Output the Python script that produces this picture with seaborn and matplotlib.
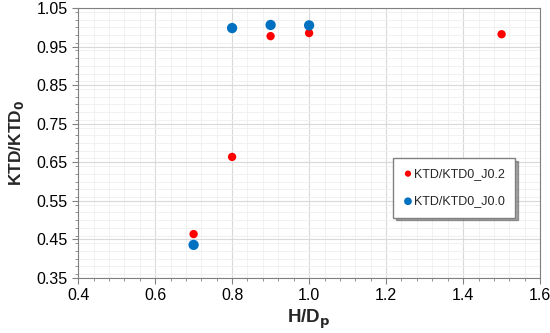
import pandas as pd
import matplotlib.pyplot as plt
import seaborn as sns
from matplotlib.ticker import MultipleLocator

# data
hd_j02 = [0.7, 0.8, 0.9, 1.0, 1.5]
ktd_j02 = [0.464, 0.664, 0.977, 0.985, 0.982]
hd_j00 = [0.7, 0.8, 0.9, 1.0]
ktd_j00 = [0.436, 0.998, 1.006, 1.005]

sns.set_style('white')
plt.rcParams['font.family'] = ['Liberation Sans', 'DejaVu Sans']

df02 = pd.DataFrame({'x': hd_j02, 'y': ktd_j02})
df00 = pd.DataFrame({'x': hd_j00, 'y': ktd_j00})

fig = plt.figure(figsize=(5.5, 3.33), dpi=100)
ax = fig.add_axes([0.142, 0.165, 0.84, 0.811])

sns.scatterplot(data=df02, x='x', y='y', color='#FF0000', s=36, edgecolor='none',
                label='KTD/KTD0_J0.2', ax=ax, zorder=3)
sns.scatterplot(data=df00, x='x', y='y', color='#0070C0', s=55, edgecolor='none',
                label='KTD/KTD0_J0.0', ax=ax, zorder=3)

ax.set_xlim(0.4, 1.6)
ax.set_ylim(0.35, 1.05)
ax.xaxis.set_major_locator(MultipleLocator(0.2))
ax.xaxis.set_minor_locator(MultipleLocator(0.04))
ax.yaxis.set_minor_locator(MultipleLocator(0.02))
ax.set_yticks([0.35, 0.45, 0.55, 0.65, 0.75, 0.85, 0.95, 1.05])
ax.grid(which='major', color='#d9d9d9', lw=0.8)
ax.grid(which='minor', color='#efefef', lw=0.6)
ax.set_axisbelow(True)
ax.tick_params(which='both', direction='out', colors='#808080', labelcolor='black',
               labelsize=11.5, bottom=True, left=True)
ax.tick_params(which='major', length=4)
ax.tick_params(which='minor', length=2.5)
ax.set_xticklabels([f'{v:.1f}' for v in ax.get_xticks()])
for sp in ax.spines.values():
    sp.set_color('#808080')

ax.set_xlabel('H/D$_\\mathbf{p}$', fontsize=13.5, fontweight='bold', labelpad=3)
ax.set_ylabel('KTD/KTD$_\\mathbf{0}$', fontsize=12.5, fontweight='bold')
ax.yaxis.set_label_coords(-0.112, 0.5)

leg = ax.legend(loc='upper left', bbox_to_anchor=(0.668, 0.468), fontsize=9,
                frameon=True, shadow=True, fancybox=False, handletextpad=0.1,
                handlelength=0.8, labelspacing=1.25, borderpad=0.8, markerscale=0.75)
leg.get_frame().set_edgecolor('#808080')

plt.savefig('out.png', dpi=100)
